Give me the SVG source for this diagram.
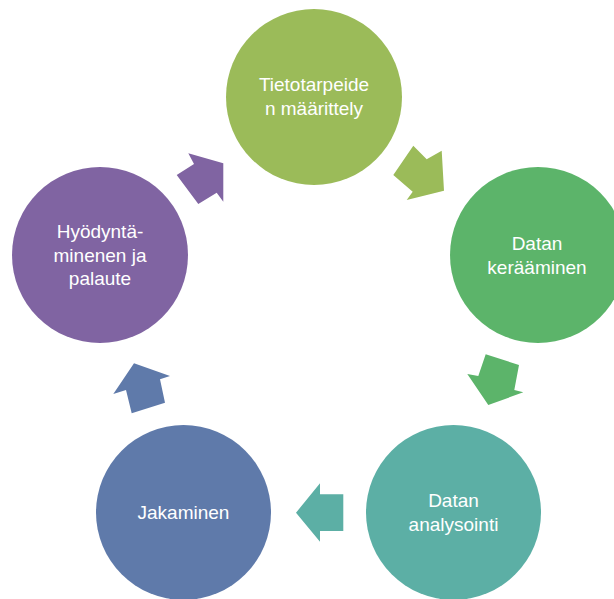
<svg xmlns="http://www.w3.org/2000/svg" width="614" height="599" viewBox="0 0 614 599">
<style>
  .lbl { font-family: "Liberation Sans", Arial, sans-serif; font-size: 19px; fill: #ffffff; text-anchor: middle; }
</style>
<rect width="614" height="599" fill="#ffffff"/>
<g id="connectors">
  <polygon fill="#9BBB59" points="413.3,145.7 426.7,159.3 441.7,150.7 444,190.7 406.7,200 412.7,191.7 393.3,175"/>
  <polygon fill="#5CB46A" points="485.7,354.3 519,365 514.3,390 523.3,392.3 488.3,405 467.3,374 478.3,376"/>
  <polygon fill="#5CAFA5" points="343.3,494.3 320,494.3 320,483.3 296,512.7 320,541.7 320,531 343.3,531"/>
  <polygon fill="#5F7AAA" points="134,363.3 170,376 160,379.3 165,402.7 131.7,413.3 126,390 113.3,394"/>
  <polygon fill="#8064A2" points="188.3,153.3 223.3,163.3 223.3,201.7 216.7,192.7 198.3,204 176.7,175 194,164"/>
</g>
<g id="node1">
  <circle cx="314" cy="97" r="88" fill="#9BBB59"/>
  <text class="lbl" x="314" y="91">Tietotarpeide</text>
  <text class="lbl" x="314" y="115">n määrittely</text>
</g>
<g id="node2">
  <circle cx="538" cy="255" r="88" fill="#5CB46A"/>
  <text class="lbl" x="537" y="250">Datan</text>
  <text class="lbl" x="537" y="274">kerääminen</text>
</g>
<g id="node3">
  <circle cx="453.5" cy="512.5" r="87.5" fill="#5CAFA5"/>
  <text class="lbl" x="453.5" y="507">Datan</text>
  <text class="lbl" x="453.5" y="531">analysointi</text>
</g>
<g id="node4">
  <circle cx="183.5" cy="512.5" r="87.5" fill="#5F7AAA"/>
  <text class="lbl" x="183.5" y="519">Jakaminen</text>
</g>
<g id="node5">
  <circle cx="100" cy="255" r="88" fill="#8064A2"/>
  <text class="lbl" x="100" y="238">Hyödyntä-</text>
  <text class="lbl" x="100" y="262">minenen ja</text>
  <text class="lbl" x="100" y="285">palaute</text>
</g>
</svg>
